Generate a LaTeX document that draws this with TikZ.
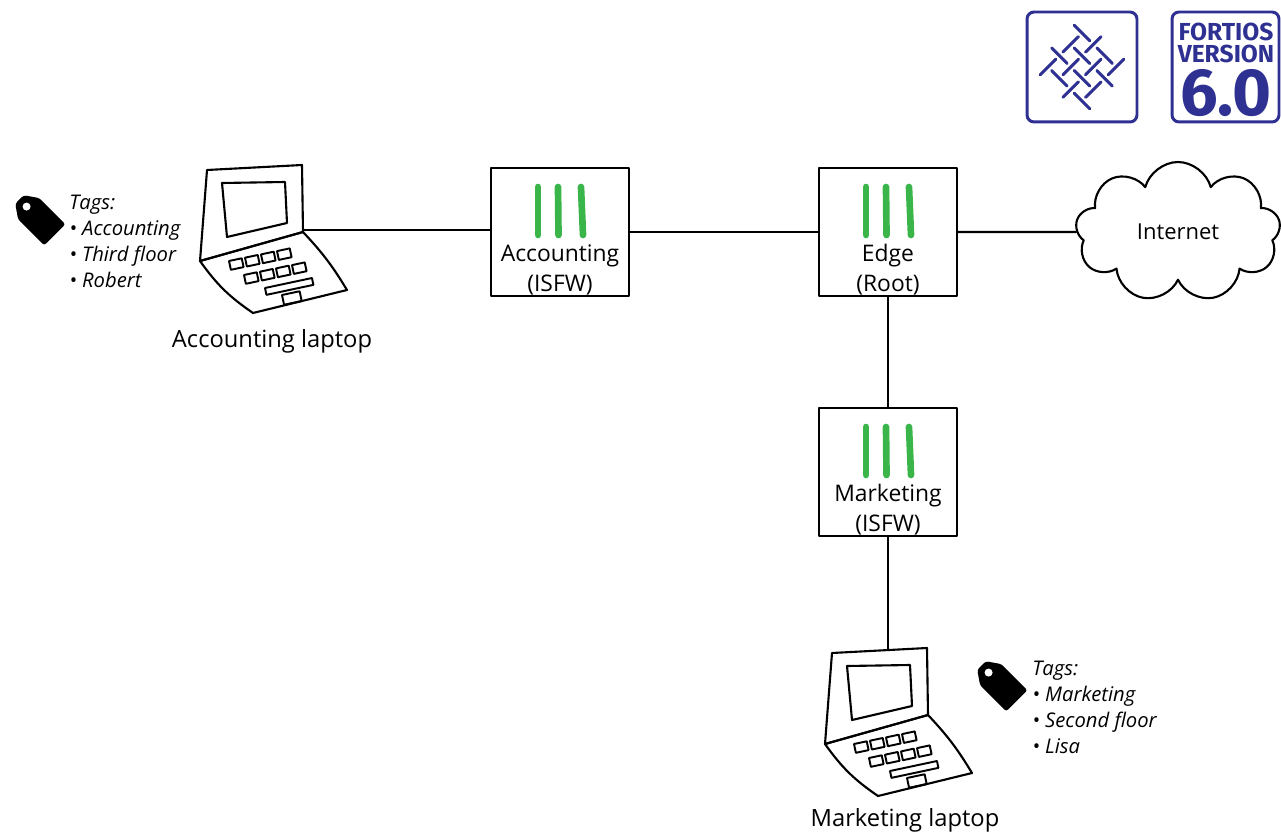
\documentclass[tikz,border=0pt]{standalone}
\usepackage{fontspec}
\setmainfont{Open Sans}
\newfontfamily\logofont{Fira Sans}
\usetikzlibrary{shapes.symbols}
\definecolor{fwgreen}{RGB}{57,181,74}
\definecolor{logoblue}{RGB}{46,49,146}
\tikzset{
  sketch/.style={line width=1.2pt},
  fw/.style={draw, line width=1.1pt, minimum width=2.76cm, minimum height=2.56cm,
    path picture={
      \foreach \dx/\tilt in {-22/0,-2/0.5,21/2}
        \draw[fwgreen, line width=3.8pt, line cap=round]
          ([xshift={\dx*0.02cm}, yshift=0.9cm]path picture bounding box.center) -- ++({\tilt*0.02cm},-0.96cm);
    }},
  fwtext/.style={align=center, font=\fontsize{13}{17}\selectfont},
  pclabel/.style={font=\fontsize{13.5}{15}\selectfont},
  tagtext/.style={align=left, anchor=north west, inner sep=0pt, font=\itshape\fontsize{11.5}{14.7}\selectfont},
  logobox/.style={draw=logoblue, line width=1.7pt, rounded corners=4pt, minimum height=2.2cm},
  logo/.style={draw=logoblue, line width=1.7pt, line cap=round},
  % laptop drawn from the top left corner of its lid
  laptop/.pic={
    \draw[sketch] (7,5) -- (102,0) -- (103,67) -- (0,96) -- cycle;
    \draw[sketch] (22,18) -- (85,17) -- (87,58) -- (27,72) -- cycle;
    \draw[sketch] (0,96) -- (103,67) to[bend left=6] (147,125) -- (53,148) to[bend left=10] cycle;
    \foreach \i in {0,...,3}{
      \draw[line width=1.1pt, shift={(29+16*\i,96-3.3*\i)}, rotate=12] (0,0) rectangle (13,9);
      \draw[line width=1.1pt, shift={(44+16*\i,110-3.3*\i)}, rotate=12] (0,0) rectangle (13,9);
    }
    \draw[line width=1.1pt, shift={(65,123)}, rotate=12] (0,0) rectangle (48,7);
    \draw[line width=1.1pt, shift={(82,130)}, rotate=12] (0,0) rectangle (18,10);
    \coordinate (-side) at (103,65);
    \coordinate (-top) at (63,2);
  },
  % price tag, hole up left
  tag/.pic={
    \begin{scope}[rotate=-45]
      \fill[rounded corners=1.5pt] (-29,-6) -- (-29,6) -- (-16,15) -- (21,15) -- (21,-15) -- (-16,-15) -- cycle;
      \fill[white] (-19,0) circle[radius=4];
    \end{scope}
  }
}
\begin{document}
\begin{tikzpicture}[x=0.02cm, y=-0.02cm, line join=round, line cap=round]
  \useasboundingbox (0,0) rectangle (1281,834);

  % logos
  \node[logobox, minimum width=2.2cm] (weave) at (1082,67) {};
  \begin{scope}[shift={(1082,67)}, rotate=45]
    \foreach \i in {0,...,3}{
      \foreach \j in {0,...,3}{
        \pgfmathtruncatemacro\odd{mod(\i+\j,2)}
        \ifnum\odd=0
          \draw[logo] ({(\j-1.5)*16-11},{(\i-1.5)*16}) -- ++(22,0);
        \else
          \draw[logo] ({(\j-1.5)*16},{(\i-1.5)*16-11}) -- ++(0,22);
        \fi
      }
    }
  \end{scope}
  \node[logobox, minimum width=2.14cm] (verbox) at (1225.5,67) {};
  \node[text=logoblue, font=\logofont\bfseries\fontsize{14}{14}\selectfont] (fortios) at (1226,32) {FORTIOS};
  \node[text=logoblue, font=\logofont\bfseries\fontsize{14}{14}\selectfont] (version) at (1226,54) {VERSION};
  \node[text=logoblue, font=\logofont\bfseries\fontsize{38}{38}\selectfont] (vernum) at (1226,93) {6.0};

  % laptops
  \pic (acctpc) at (200,165) {laptop};
  \node[pclabel] (acctlbl) at (272,341) {Accounting laptop};
  \pic (mktpc) at (825,648) {laptop};
  \node[pclabel] (mktlbl) at (905,820) {Marketing laptop};

  % tags
  \pic at (40,220) {tag};
  \node[tagtext] (accttags) at (69,195) {Tags:\\• Accounting\\• Third floor\\• Robert};
  \pic at (1002,686) {tag};
  \node[tagtext] (mkttags) at (1032,661) {Tags:\\• Marketing\\• Second floor\\• Lisa};

  % firewalls
  \node[fw] (acctfw) at (560,232) {};
  \node[fwtext, yshift=-0.76cm] at (acctfw.center) {Accounting\\(ISFW)};
  \node[fw] (edgefw) at (888,232) {};
  \node[fwtext, yshift=-0.76cm] at (edgefw.center) {Edge\\(Root)};
  \node[fw] (mktfw) at (888,472) {};
  \node[fwtext, yshift=-0.76cm] at (mktfw.center) {Marketing\\(ISFW)};

  \node[cloud, draw, line width=1.2pt, cloud puffs=9, aspect=1.5, minimum width=4.1cm,
    minimum height=2.8cm, font=\fontsize{12.5}{14}\selectfont] (internet) at (1178,232) {Internet};

  % links
  \draw[sketch] (acctpc-side) -- (acctpc-side -| acctfw.west);
  \draw[sketch] (acctfw) -- (edgefw);
  \draw[sketch] (edgefw) -- (internet);
  \draw[sketch] (edgefw) -- (mktfw);
  \draw[sketch] (mktfw) -- (mktpc-top);
\end{tikzpicture}
\end{document}
